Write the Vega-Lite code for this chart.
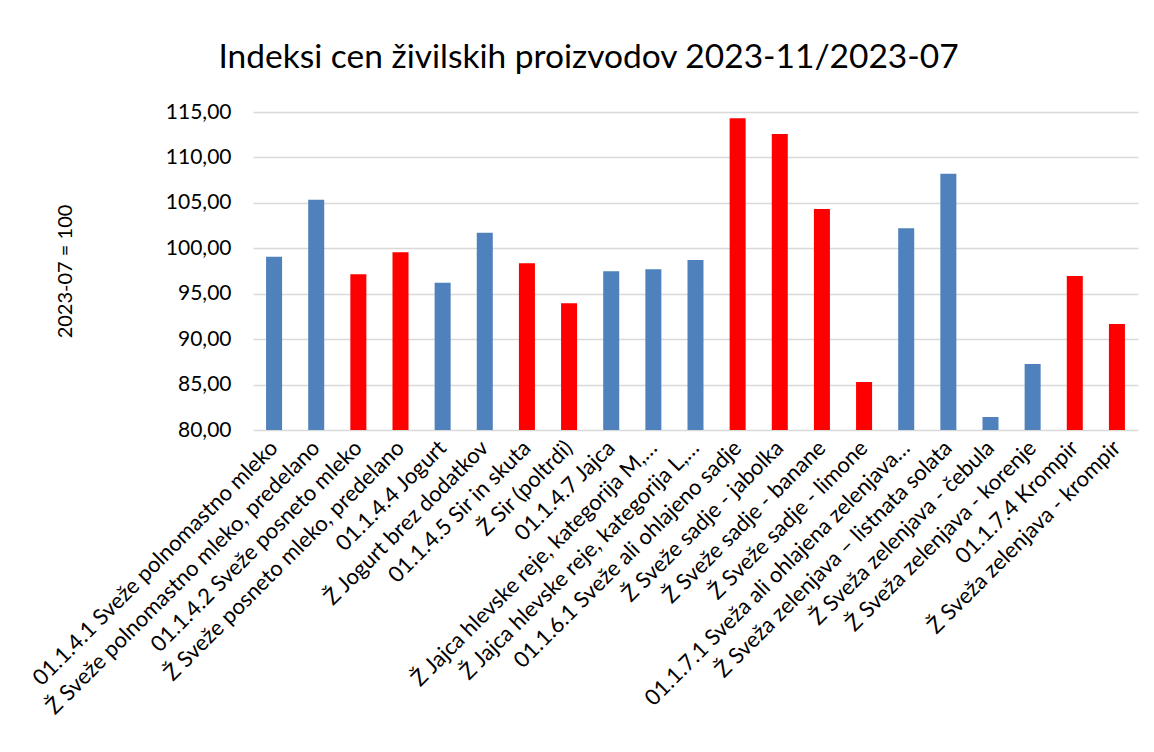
{
  "$schema": "https://vega.github.io/schema/vega-lite/v6.json",
  "autosize": "none",
  "width": 885,
  "height": 318,
  "padding": {"left": 253, "top": 112, "right": 16, "bottom": 322},
  "background": "white",
  "title": {
    "text": "Indeksi cen živilskih proizvodov 2023-11/2023-07",
    "font": "Lato",
    "fontSize": 33.5,
    "fontWeight": "normal",
    "color": "#000000",
    "anchor": "middle",
    "frame": "group",
    "dx": -107,
    "baseline": "alphabetic",
    "offset": 0
  },
  "data": {
    "values": [
      {"izdelek": "01.1.4.1 Sveže polnomastno mleko", "indeks": 99.07, "barva": "modra"},
      {"izdelek": "Ž Sveže polnomastno mleko, predelano", "indeks": 105.35, "barva": "modra"},
      {"izdelek": "01.1.4.2 Sveže posneto mleko", "indeks": 97.13, "barva": "rdeča"},
      {"izdelek": "Ž Sveže posneto mleko, predelano", "indeks": 99.55, "barva": "rdeča"},
      {"izdelek": "01.1.4.4 Jogurt", "indeks": 96.2, "barva": "modra"},
      {"izdelek": "Ž  Jogurt brez dodatkov", "indeks": 101.72, "barva": "modra"},
      {"izdelek": "01.1.4.5 Sir in skuta", "indeks": 98.34, "barva": "rdeča"},
      {"izdelek": "Ž  Sir (poltrdi)", "indeks": 93.94, "barva": "rdeča"},
      {"izdelek": "01.1.4.7 Jajca", "indeks": 97.46, "barva": "modra"},
      {"izdelek": "Ž  Jajca hlevske reje, kategorija M,…", "indeks": 97.68, "barva": "modra"},
      {"izdelek": "Ž  Jajca hlevske reje, kategorija L,…", "indeks": 98.71, "barva": "modra"},
      {"izdelek": "01.1.6.1 Sveže ali ohlajeno sadje", "indeks": 114.3, "barva": "rdeča"},
      {"izdelek": "Ž  Sveže sadje - jabolka", "indeks": 112.58, "barva": "rdeča"},
      {"izdelek": "Ž  Sveže sadje - banane", "indeks": 104.32, "barva": "rdeča"},
      {"izdelek": "Ž  Sveže sadje - limone", "indeks": 85.28, "barva": "rdeča"},
      {"izdelek": "01.1.7.1 Sveža ali ohlajena zelenjava…", "indeks": 102.2, "barva": "modra"},
      {"izdelek": "Ž  Sveža zelenjava – listnata solata", "indeks": 108.21, "barva": "modra"},
      {"izdelek": "Ž  Sveža zelenjava - čebula", "indeks": 81.43, "barva": "modra"},
      {"izdelek": "Ž  Sveža zelenjava - korenje", "indeks": 87.26, "barva": "modra"},
      {"izdelek": "01.1.7.4 Krompir", "indeks": 96.95, "barva": "rdeča"},
      {"izdelek": "Ž  Sveža zelenjava - krompir", "indeks": 91.67, "barva": "rdeča"}
    ]
  },
  "mark": {"type": "bar", "clip": true},
  "encoding": {
    "x": {
      "field": "izdelek",
      "type": "nominal",
      "sort": null,
      "scale": {"paddingInner": 0.62, "paddingOuter": 0.31},
      "axis": {
        "title": null,
        "labelAngle": -45,
        "labelAlign": "right",
        "labelBaseline": "middle",
        "labelFont": "Lato",
        "labelFontSize": 22,
        "labelColor": "#000000",
        "labelLimit": 0,
        "labelPadding": 14,
        "ticks": false,
        "domain": false,
        "grid": false
      }
    },
    "y": {
      "field": "indeks",
      "type": "quantitative",
      "scale": {"domain": [80, 115], "nice": false, "zero": false},
      "axis": {
        "title": "2023-07 = 100",
        "titleFont": "Lato",
        "titleFontSize": 20,
        "titleFontWeight": "normal",
        "titleColor": "#000000",
        "titleX": -178,
        "titleY": 159,
        "titleAnchor": null,
        "values": [80, 85, 90, 95, 100, 105, 110, 115],
        "format": ".2f",
        "labelExpr": "replace(datum.label, '.', ',')",
        "labelFont": "Lato",
        "labelFontSize": 21,
        "labelColor": "#000000",
        "labelPadding": 22,
        "ticks": false,
        "domain": false,
        "grid": true,
        "gridColor": "#D9D9D9",
        "gridWidth": 1.5
      }
    },
    "color": {
      "field": "barva",
      "type": "nominal",
      "scale": {"domain": ["modra", "rdeča"], "range": ["#4F81BD", "#FF0000"]},
      "legend": null
    }
  },
  "config": {"view": {"stroke": null}}
}
